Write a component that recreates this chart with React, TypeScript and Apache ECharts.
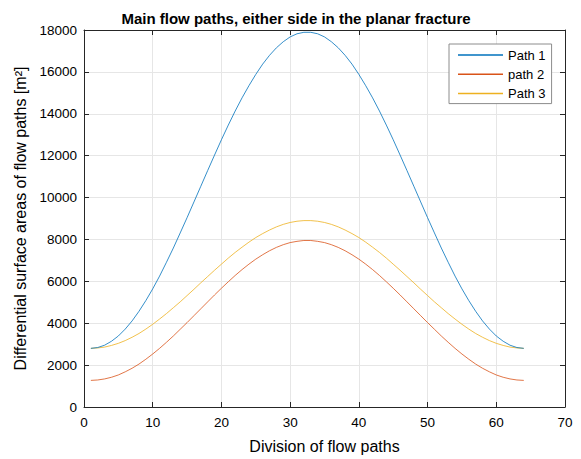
import React, { useEffect, useRef } from "react";
import * as echarts from "echarts";

const divisions = [
  1, 2, 3, 4, 5, 6, 7, 8, 9, 10, 11, 12, 13, 14, 15, 16,
  17, 18, 19, 20, 21, 22, 23, 24, 25, 26, 27, 28, 29, 30, 31, 32,
  33, 34, 35, 36, 37, 38, 39, 40, 41, 42, 43, 44, 45, 46, 47, 48,
  49, 50, 51, 52, 53, 54, 55, 56, 57, 58, 59, 60, 61, 62, 63, 64,
];

const path1 = [
  2800, 2840, 2950, 3140, 3390, 3720, 4110, 4570, 5080, 5640, 6250, 6910, 7590, 8310, 9040, 9790,
  10540, 11290, 12030, 12760, 13460, 14130, 14760, 15340, 15880, 16370, 16790, 17150, 17440, 17670, 17820, 17890,
  17890, 17820, 17670, 17440, 17150, 16790, 16370, 15880, 15340, 14760, 14130, 13460, 12760, 12030, 11290, 10540,
  9790, 9040, 8310, 7590, 6910, 6250, 5640, 5080, 4570, 4110, 3720, 3390, 3140, 2950, 2840, 2800,
];

const path2 = [
  1270, 1290, 1340, 1420, 1530, 1680, 1850, 2050, 2280, 2530, 2800, 3090, 3390, 3710, 4030, 4360,
  4690, 5020, 5350, 5670, 5980, 6280, 6560, 6820, 7060, 7270, 7460, 7620, 7750, 7850, 7910, 7950,
  7950, 7910, 7850, 7750, 7620, 7460, 7270, 7060, 6820, 6560, 6280, 5980, 5670, 5350, 5020, 4690,
  4360, 4030, 3710, 3390, 3090, 2800, 2530, 2280, 2050, 1850, 1680, 1530, 1420, 1340, 1290, 1270,
];

const path3 = [
  2800, 2820, 2860, 2940, 3040, 3170, 3330, 3510, 3720, 3950, 4200, 4460, 4740, 5020, 5320, 5620,
  5930, 6230, 6530, 6820, 7110, 7380, 7630, 7870, 8090, 8280, 8450, 8600, 8720, 8810, 8870, 8900,
  8900, 8870, 8810, 8720, 8600, 8450, 8280, 8090, 7870, 7630, 7380, 7110, 6820, 6530, 6230, 5930,
  5620, 5320, 5020, 4740, 4460, 4200, 3950, 3720, 3510, 3330, 3170, 3040, 2940, 2860, 2820, 2800,
];

const seriesNames = ["Path 1", "path 2", "Path 3"];
const seriesColors = ["#0072BD", "#D95319", "#EDB120"];

const FONT = "Liberation Sans, Arial, Helvetica, sans-serif";
const AXIS_COLOR = "#262626";

export default function App() {
  const ref = useRef<HTMLDivElement>(null);

  useEffect(() => {
    if (!ref.current) return;
    const chart = echarts.init(ref.current, undefined, { renderer: "svg" });
    const toPairs = (ys: number[]) => divisions.map((x, i) => [x, ys[i]]);
    const allSeries = [path1, path2, path3];

    const baseTick = { show: true, inside: true, length: 5, lineStyle: { color: AXIS_COLOR, width: 1 } };
    const baseLine = { show: true, onZero: false, lineStyle: { color: AXIS_COLOR, width: 1 } };

    chart.setOption({
      animation: false,
      backgroundColor: "#ffffff",
      title: {
        text: "Main flow paths, either side in the planar fracture",
        left: 291,
        top: 6,
        textAlign: "center",
        textStyle: { fontFamily: FONT, fontSize: 15, fontWeight: "bold", color: "#000" },
      },
      legend: {
        orient: "vertical",
        left: 449,
        top: 44,
        padding: [4, 6, 3, 9],
        itemGap: 5.3,
        itemWidth: 45,
        itemHeight: 1.5,
        icon: "rect",
        backgroundColor: "#ffffff",
        borderColor: "#8c8c8c",
        borderWidth: 1,
        borderRadius: 0,
        textStyle: { fontFamily: FONT, fontSize: 13, color: "#000", lineHeight: 14 },
        data: seriesNames,
      },
      grid: { left: 84, right: 16, top: 30, bottom: 50, containLabel: false },
      xAxis: [
        {
          type: "value",
          min: 0,
          max: 70,
          interval: 10,
          name: "Division of flow paths",
          nameLocation: "middle",
          nameGap: 31,
          nameTextStyle: { fontFamily: FONT, fontSize: 16, color: "#000" },
          axisLine: baseLine,
          axisTick: baseTick,
          axisLabel: { margin: 8, fontFamily: FONT, fontSize: 13.5, color: "#000" },
          splitLine: { show: true, lineStyle: { color: "#e6e6e6", width: 1 } },
        },
        {
          type: "value",
          position: "top",
          min: 0,
          max: 70,
          interval: 10,
          axisLine: baseLine,
          axisTick: baseTick,
          axisLabel: { show: false },
          splitLine: { show: false },
        },
      ],
      yAxis: [
        {
          type: "value",
          min: 0,
          max: 18000,
          interval: 2000,
          name: "Differential surface areas of flow paths [m²]",
          nameLocation: "middle",
          nameGap: 54,
          nameTextStyle: { fontFamily: FONT, fontSize: 16, color: "#000" },
          axisLine: baseLine,
          axisTick: baseTick,
          axisLabel: {
            margin: 7,
            fontFamily: FONT,
            fontSize: 13.5,
            color: "#000",
            formatter: (v: number) => String(v),
          },
          splitLine: { show: true, lineStyle: { color: "#e6e6e6", width: 1 } },
        },
        {
          type: "value",
          position: "right",
          min: 0,
          max: 18000,
          interval: 2000,
          axisLine: baseLine,
          axisTick: baseTick,
          axisLabel: { show: false },
          splitLine: { show: false },
        },
      ],
      series: allSeries.map((ys, i) => ({
        name: seriesNames[i],
        type: "line",
        xAxisIndex: 0,
        yAxisIndex: 0,
        data: toPairs(ys),
        showSymbol: false,
        symbol: "none",
        color: seriesColors[i],
        lineStyle: { color: seriesColors[i], width: 0.8 },
        z: 3 - i,
      })),
    });

    return () => chart.dispose();
  }, []);

  return (
    <div
      ref={ref}
      style={{ position: "fixed", left: 0, top: 0, width: 581, height: 459, background: "#fff" }}
    />
  );
}
